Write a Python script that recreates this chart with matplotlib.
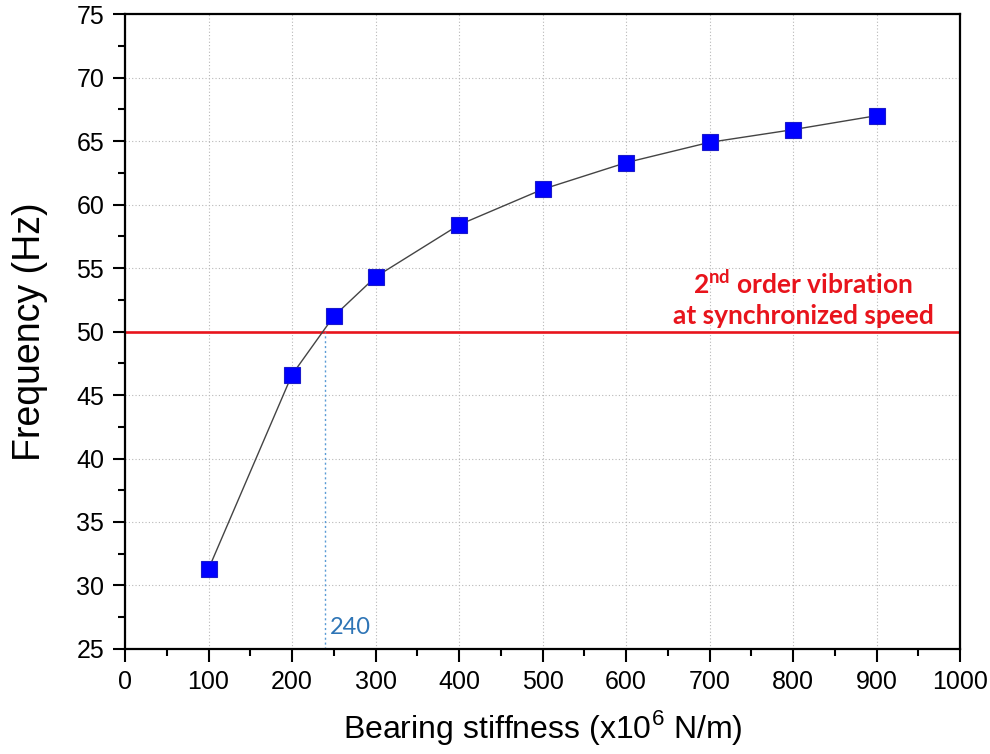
import numpy as np
import matplotlib
matplotlib.use('Agg')
import matplotlib.pyplot as plt
from matplotlib.ticker import MultipleLocator

plt.rcParams['font.family'] = ['Liberation Sans', 'DejaVu Sans']
plt.rcParams['mathtext.fontset'] = 'custom'
plt.rcParams['mathtext.rm'] = 'Liberation Sans'
plt.rcParams['mathtext.bf'] = 'Lato:bold'

# Dữ liệu
stiffness = [100, 200, 250, 300, 400, 500, 600, 700, 800, 900]
frequency = [31.3, 46.6, 51.2, 54.3, 58.4, 61.2, 63.3, 64.9, 65.9, 67.0]
sync_freq = 50
cross_stiffness = 240

fig = plt.figure(figsize=(9.9, 7.54), dpi=100)
ax = fig.add_axes([0.1263, 0.1393, 0.8434, 0.842])

ax.plot(stiffness, frequency, color='#444444', lw=1.0, zorder=3)
ax.plot(stiffness, frequency, ls='none', marker='s', ms=11.5,
        mfc='#0000ff', mec='#1a1acc', mew=0.8, zorder=4)

# Đường tần số đồng bộ
ax.axhline(sync_freq, color='#e8141c', lw=1.9, zorder=2)
ax.plot([cross_stiffness, cross_stiffness], [25, sync_freq], color='#5b9bd5',
        ls=(0, (1.5, 2)), lw=1.0, zorder=2)
ax.text(cross_stiffness + 5, 25.9, str(cross_stiffness), color='#2e75b6',
        fontsize=17, family=['Lato', 'DejaVu Sans'], ha='left', va='bottom')
ax.text(812, 53.75, r'2$^{\mathbf{nd}}$ order vibration', color='#e8141c',
        fontsize=19, fontweight='bold', family=['Lato', 'DejaVu Sans'],
        ha='center', va='center')
ax.text(812, 51.2, 'at synchronized speed', color='#e8141c',
        fontsize=19, fontweight='bold', family=['Lato', 'DejaVu Sans'],
        ha='center', va='center')

ax.set_xlim(0, 1000)
ax.set_ylim(25, 75)
ax.xaxis.set_major_locator(MultipleLocator(100))
ax.xaxis.set_minor_locator(MultipleLocator(50))
ax.yaxis.set_major_locator(MultipleLocator(5))
ax.yaxis.set_minor_locator(MultipleLocator(2.5))
ax.tick_params(which='major', direction='out', length=9, width=1.5, labelsize=18, pad=6)
ax.tick_params(which='minor', direction='out', length=5, width=1.5)
for s in ax.spines.values():
    s.set_linewidth(1.6)

ax.grid(True, which='major', color='#b8b8b8', ls=(0, (1, 2)), lw=0.8)
ax.set_axisbelow(True)

ax.set_xlabel(r'Bearing stiffness (x10$^6$ N/m)', fontsize=23, labelpad=10)
ax.set_ylabel('Frequency (Hz)', fontsize=27, labelpad=20)

fig.savefig('out.png', dpi=100)
